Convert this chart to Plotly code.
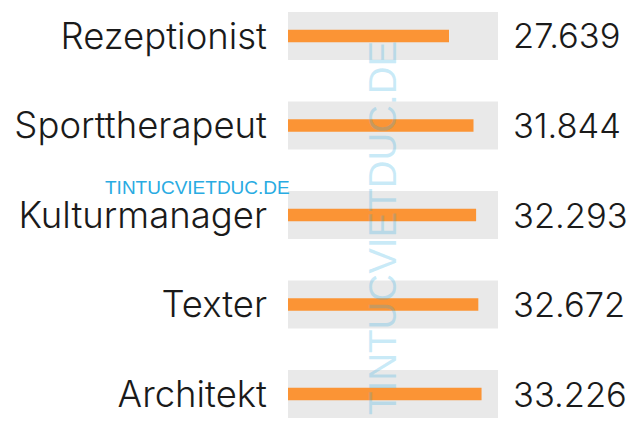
import plotly.graph_objects as go

# Average gross salaries (EUR) by occupation
jobs = ["Rezeptionist", "Sporttherapeut", "Kulturmanager", "Texter", "Architekt"]
salaries = [27639, 31844, 32293, 32672, 33226]
value_labels = ["27.639", "31.844", "32.293", "32.672", "33.226"]
track_max = 36050  # length of the grey background track

label_font = dict(family="Inter", size=36.5, color="#1a1a1a", weight=300)
value_font = dict(family="Inter", size=34.5, color="#1a1a1a", weight=300)

fig = go.Figure()

# grey background tracks
fig.add_trace(go.Bar(
    y=jobs, x=[track_max] * len(jobs), orientation="h",
    marker=dict(color="#e9e9e9", line=dict(width=0)),
    width=0.536, hoverinfo="skip", showlegend=False,
))

# salary bars
fig.add_trace(go.Bar(
    y=jobs, x=salaries, orientation="h",
    marker=dict(color="#fb9435", line=dict(width=0)),
    width=0.14, showlegend=False,
))

# value labels to the right of each track
for job, lab in zip(jobs, value_labels):
    fig.add_annotation(
        x=track_max, y=job, xref="x", yref="y", text=lab,
        showarrow=False, xanchor="left", xshift=13,
        font=value_font,
    )

W, H, L, R = 640, 424, 288, 142


def px_to_paper(px, py):
    return (px - L) / (W - L - R), 1 - py / H


# site watermarks
hx, hy = px_to_paper(103, 187)
fig.add_annotation(
    x=hx, y=hy, xref="paper", yref="paper", text="TINTUCVIETDUC.DE",
    showarrow=False, xanchor="left", yanchor="middle",
    font=dict(family="Liberation Sans", size=19, color="#29abe2"),
)
vx, vy = px_to_paper(382, 228)
fig.add_annotation(
    x=vx, y=vy, xref="paper", yref="paper", text="TINTUCVIETDUC.DE",
    showarrow=False, textangle=-90, xanchor="center", yanchor="middle",
    font=dict(family="Liberation Sans", size=38.5, color="rgba(41,171,226,0.25)"),
)

fig.update_layout(
    width=W, height=H,
    margin=dict(l=L, r=R, t=0, b=0),
    barmode="overlay",
    plot_bgcolor="white", paper_bgcolor="white",
    xaxis=dict(range=[0, track_max], visible=False, fixedrange=True),
    yaxis=dict(
        type="category", categoryorder="array", categoryarray=jobs,
        range=[4.335, -0.402], showgrid=False, zeroline=False,
        showline=False, ticks="", ticklabelstandoff=20,
        tickfont=label_font, automargin=False,
    ),
)

fig.write_html("out.html")
